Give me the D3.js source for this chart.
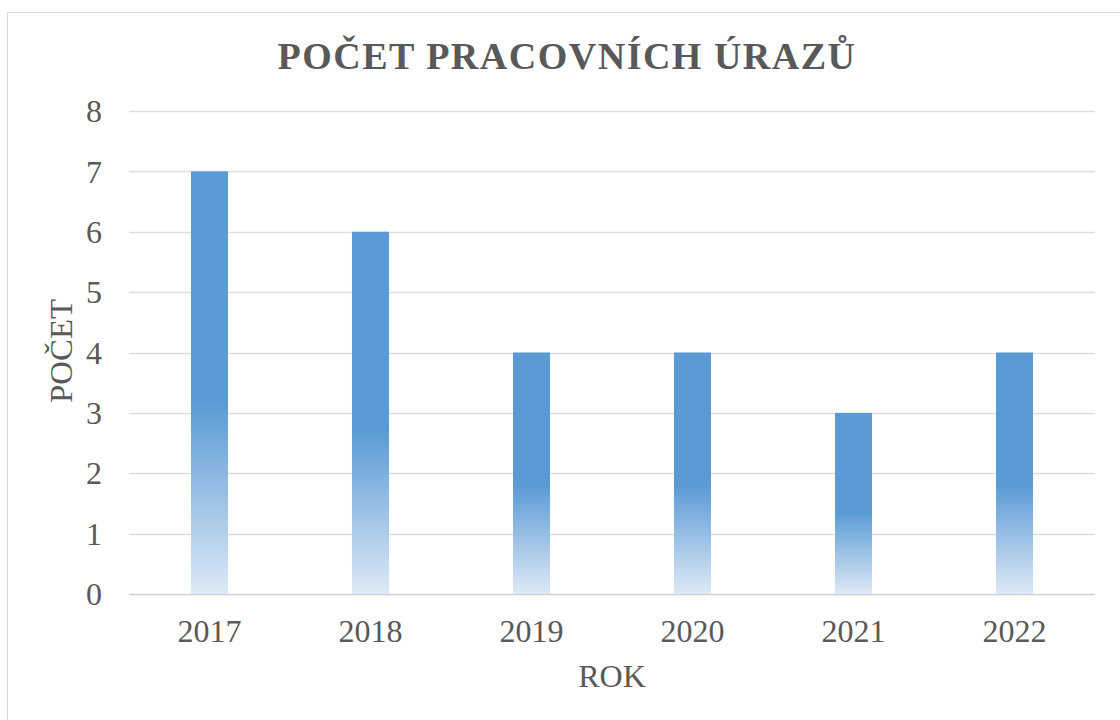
<!DOCTYPE html>
<html>
<head>
<meta charset="utf-8">
<script src="https://cdn.jsdelivr.net/npm/d3@7"></script>
<style>
  body { margin: 0; background: #fff; }
  text { font-family: "Liberation Serif", "Times New Roman", serif; fill: #595959; }
</style>
</head>
<body>
<svg id="chart" width="1120" height="720"></svg>
<script>
  // data
  var years = ['2017', '2018', '2019', '2020', '2021', '2022'];
  var counts = [7, 6, 4, 4, 3, 4];
  var yTicks = [0, 1, 2, 3, 4, 5, 6, 7, 8];

  var svg = d3.select('#chart');

  // chart border
  svg.append('rect')
    .attr('x', 7.5).attr('y', 12.5)
    .attr('width', 1120).attr('height', 720)
    .attr('fill', '#fff')
    .attr('stroke', '#d9d9d9');

  var plot = { left: 129, right: 1095, top: 111, bottom: 594 };

  var x = d3.scaleBand()
    .domain(years)
    .range([plot.left, plot.right])
    .paddingInner(0.77)
    .paddingOuter(0.385);

  var y = d3.scaleLinear()
    .domain([0, 8])
    .range([plot.bottom, plot.top]);

  // gradient for bars
  var grad = svg.append('defs').append('linearGradient')
    .attr('id', 'barGrad')
    .attr('x1', 0).attr('y1', 1).attr('x2', 0).attr('y2', 0);
  grad.append('stop').attr('offset', '0%').attr('stop-color', '#dde9f6');
  grad.append('stop').attr('offset', '45%').attr('stop-color', '#5b9bd5');
  grad.append('stop').attr('offset', '100%').attr('stop-color', '#5b9bd5');

  // gridlines
  svg.append('g')
    .selectAll('line')
    .data(yTicks)
    .join('line')
    .attr('x1', plot.left).attr('x2', plot.right)
    .attr('y1', function (d) { return Math.round(y(d)) + 0.5; })
    .attr('y2', function (d) { return Math.round(y(d)) + 0.5; })
    .attr('stroke', function (d) { return d === 0 ? '#d0d0d0' : '#dedede'; })
    .attr('stroke-width', 1.5);

  // bars
  svg.append('g')
    .selectAll('rect')
    .data(counts)
    .join('rect')
    .attr('x', function (d, i) { return x(years[i]); })
    .attr('width', x.bandwidth())
    .attr('y', function (d) { return y(d); })
    .attr('height', function (d) { return y(0) - y(d); })
    .attr('fill', 'url(#barGrad)');

  // y tick labels
  svg.append('g')
    .selectAll('text')
    .data(yTicks)
    .join('text')
    .attr('x', 102)
    .attr('y', function (d) { return y(d); })
    .attr('dy', '0.35em')
    .attr('text-anchor', 'end')
    .style('font-size', '32px')
    .text(function (d) { return d; });

  // x tick labels
  svg.append('g')
    .selectAll('text')
    .data(years)
    .join('text')
    .attr('x', function (d) { return x(d) + x.bandwidth() / 2; })
    .attr('y', 642)
    .attr('text-anchor', 'middle')
    .style('font-size', '32px')
    .text(function (d) { return d; });

  // title
  svg.append('text')
    .attr('x', 567).attr('y', 69)
    .attr('text-anchor', 'middle')
    .style('font-size', '38px')
    .style('font-weight', 'bold')
    .style('letter-spacing', '1.5px')
    .text('POČET PRACOVNÍCH ÚRAZŮ');

  // axis titles
  svg.append('text')
    .attr('x', 612).attr('y', 687)
    .attr('text-anchor', 'middle')
    .style('font-size', '32px')
    .text('ROK');

  svg.append('text')
    .attr('transform', 'translate(72,351) rotate(-90)')
    .attr('text-anchor', 'middle')
    .style('font-size', '32px')
    .attr('textLength', 104)
    .attr('lengthAdjust', 'spacingAndGlyphs')
    .text('POČET');
</script>
</body>
</html>
